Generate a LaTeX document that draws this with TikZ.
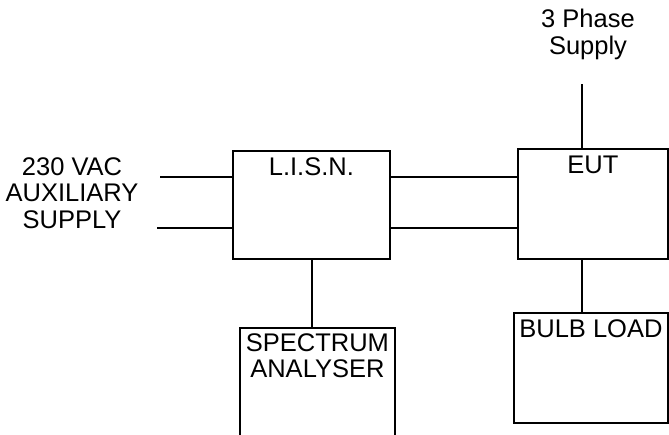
\documentclass[tikz,border=0pt]{standalone}
\usepackage{fontspec}
\setmainfont{Liberation Sans}
\usetikzlibrary{positioning}

\tikzset{
  blk/.style={draw, line width=1.8pt, rectangle, inner sep=0pt},
  lbl/.style={anchor=north, inner sep=0pt, align=center,
    font=\fontsize{25.5}{26.5}\selectfont},
  wire/.style={line width=1.8pt}
}

\begin{document}
\begin{tikzpicture}[x=1pt, y=-1pt]
    % Page frame
    \useasboundingbox (0,0) rectangle (669,434);
    \clip (0,0) rectangle (669,434);

    % Blocks
    \node[blk, anchor=north west, minimum width=157pt, minimum height=108pt] (lisn) at (232,150) {};
    \node[blk, anchor=north west, minimum width=150pt, minimum height=110pt] (eut) at (517,148) {};
    \node[blk, anchor=north west, minimum width=155pt, minimum height=140pt] (spec) at (239,327) {};
    \node[blk, anchor=north west, minimum width=154pt, minimum height=110pt] (bulb) at (513,312) {};

    % Block titles
    \node[lbl, yshift=-7pt] (lisnlbl) at (lisn.north) {L.I.S.N.};
    \node[lbl, yshift=-8pt] (eutlbl) at (eut.north) {EUT};
    \node[lbl, yshift=-6pt] (speclbl) at (spec.north) {SPECTRUM\\ANALYSER};
    \node[lbl, yshift=-7pt] (bulblbl) at (bulb.north) {BULB LOAD};

    % Supplies
    \node[lbl] (aux) at (72,157) {230 VAC\\AUXILIARY\\SUPPLY};
    \node[lbl] (phase) at (588,9) {3 Phase\\Supply};
    \coordinate (auxa) at (160,177);
    \coordinate (auxb) at (157,228);
    \coordinate (phin) at (582,84);

    % Wiring
    \draw[wire] (auxa) -- (auxa -| lisn.west);
    \draw[wire] (auxb) -- (auxb -| lisn.west);
    \draw[wire] (lisn.east |- auxa) -- (eut.west |- auxa);
    \draw[wire] (lisn.east |- auxb) -- (eut.west |- auxb);
    \draw[wire] (phin) -- (phin |- eut.north);
    \draw[wire] (lisn.south -| 312,0) -- (spec.north -| 312,0);
    \draw[wire] (eut.south -| phin) -- (bulb.north -| phin);
\end{tikzpicture}
\end{document}
